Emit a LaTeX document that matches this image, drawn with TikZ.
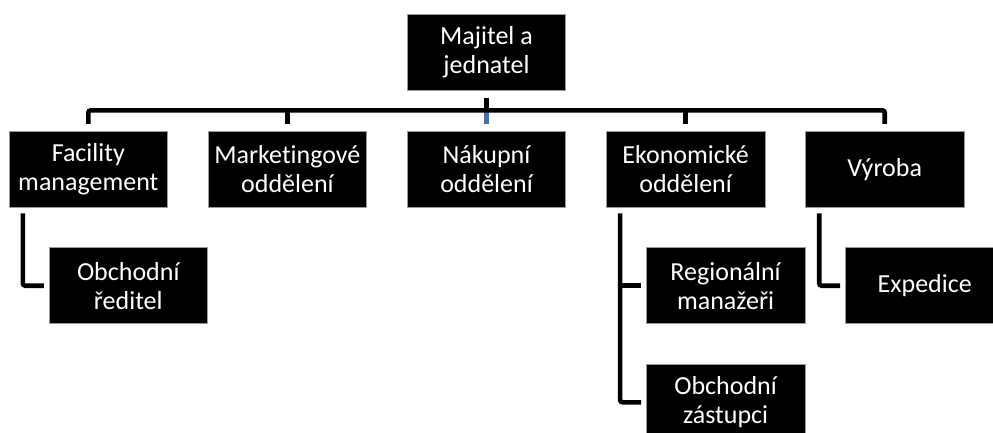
\documentclass[tikz,border=0pt]{standalone}
\usepackage{fontspec}
\setmainfont{Carlito}[Ligatures=NoCommon]
\usetikzlibrary{positioning}
\definecolor{orgblack}{HTML}{000000}
\definecolor{orgedge}{HTML}{9A9A9A}
\definecolor{orgblue}{HTML}{4672A8}

\begin{document}
\begin{tikzpicture}[
      x=1pt,y=-1pt,
      font=\fontsize{26}{29}\selectfont,
      node distance=40pt,
      unit/.style={draw=orgedge,line width=0.6pt,fill=orgblack,text=white,
        minimum width=158.5pt,minimum height=76pt,align=center,inner sep=0pt},
      link/.style={line width=4.6pt,draw=orgblack,rounded corners=2.5pt},
      subunit/.style={unit,xshift=40pt}
    ]
    \useasboundingbox (0,0) rectangle (993,432);
    \node[unit] (owner) at (486.5,52.5) {Majitel a\\jednatel};
    \node[unit,below=of owner] (nakup) {Nákupní\\oddělení};
    \node[unit,left=of nakup] (mkt) {Marketingové\\oddělení};
    \node[unit,left=of mkt] (fm) {Facility\\management};
    \node[unit,right=of nakup] (eko) {Ekonomické\\oddělení};
    \node[unit,right=of eko] (vyr) {Výroba};
    \node[subunit,below=of fm] (obred) {Obchodní\\ředitel};
    \node[subunit,below=of eko] (reg) {Regionální\\manažeři};
    \node[unit,below=of reg] (obzast) {Obchodní\\zástupci};
    \node[subunit,below=of vyr] (exped) {Expedice};

    % upper level
    \coordinate (bus) at ([yshift=-19.5pt]owner.south);
    \draw[link,draw=orgblue] (bus -| nakup.north) -- ([yshift=7pt]nakup.north);
    \draw[link] ([yshift=-7pt]owner.south) -- (bus);
    \draw[link] ([yshift=7pt]fm.north) |- (bus) -| ([yshift=7pt]vyr.north);
    \foreach \n in {mkt,eko}
      \draw[link] (bus -| \n.north) -- ([yshift=7pt]\n.north);

    % lower level
    \coordinate (fmtrunk) at ([xshift=-65.5pt,yshift=-6pt]fm.south);
    \coordinate (ekotrunk) at ([xshift=-65.5pt,yshift=-6pt]eko.south);
    \coordinate (vyrtrunk) at ([xshift=-65.5pt,yshift=-6pt]vyr.south);
    \draw[link] (fmtrunk) |- ([xshift=-5pt]obred.west);
    \draw[link] (ekotrunk) |- ([xshift=-5pt]obzast.west);
    \draw[link] (ekotrunk |- reg.west) -- ([xshift=-5pt]reg.west);
    \draw[link] (vyrtrunk) |- ([xshift=-5pt]exped.west);
  \end{tikzpicture}
\end{document}
